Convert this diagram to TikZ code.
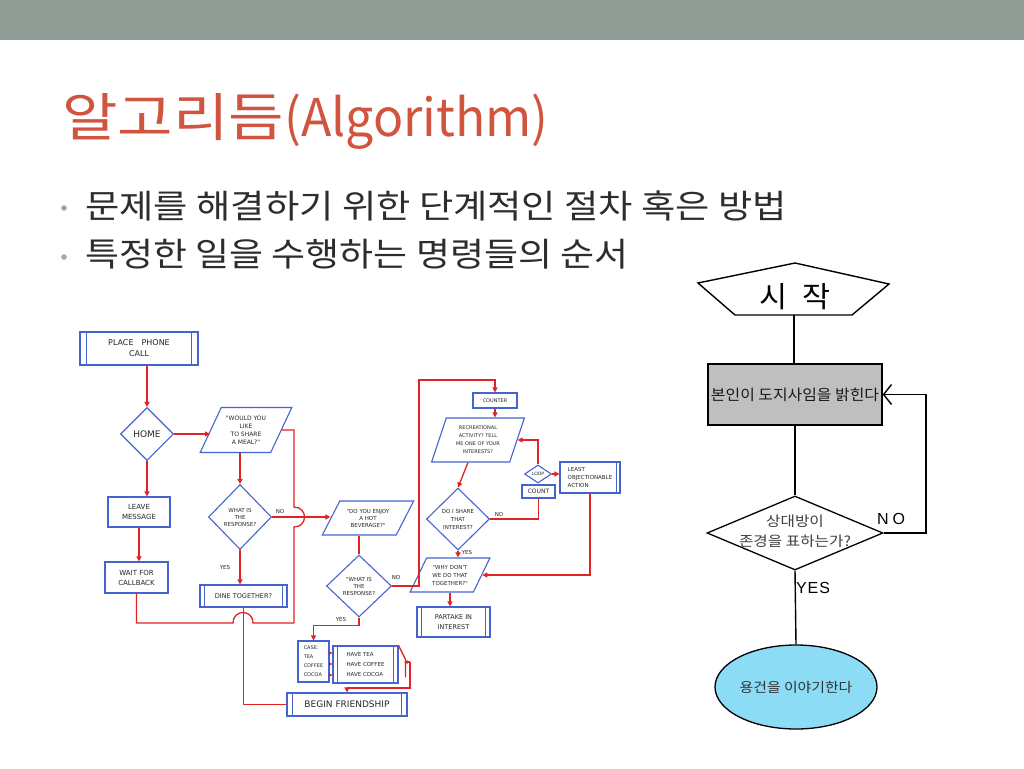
\documentclass[tikz,border=0pt]{standalone}
\usepackage{fontspec}
\setmainfont{Noto Sans CJK KR}
\newfontfamily\hand{DejaVu Sans}
\newfontfamily\narrowlab{Liberation Sans}
\usetikzlibrary{shapes.geometric,arrows.meta,calc}
\definecolor{barg}{RGB}{145,158,152}
\definecolor{titred}{RGB}{208,84,62}
\definecolor{bodyg}{RGB}{45,45,45}
\definecolor{hblue}{RGB}{70,100,205}
\definecolor{hred}{RGB}{225,35,35}
\definecolor{boxgray}{RGB}{191,191,191}
\definecolor{ellblue}{RGB}{140,220,245}
\newcommand\dsides[2]{\draw[hblue,line width=1pt] ([xshift=#2]#1.north west)--([xshift=#2]#1.south west) ([xshift=-#2]#1.north east)--([xshift=-#2]#1.south east);}
\begin{document}
\begin{tikzpicture}[x=1pt,y=-1pt,
 hbox/.style={draw=hblue,line width=1.1pt,rectangle,inner sep=0pt,align=center,text=black!85},
 hdia/.style={draw=hblue,line width=1.1pt,diamond,inner sep=0pt,align=center,text=black!85},
 hpar/.style={draw=hblue,line width=1.1pt,trapezium,trapezium stretches=true,inner sep=0pt,align=center,text=black!85},
 rl/.style={draw=hred,line width=1.3pt},
 ra/.style={rl,-{Triangle[length=5pt,width=5pt]}},
 hlab/.style={font=\hand\fontsize{5.5}{6}\selectfont,text=black!85,inner sep=0pt},
 kline/.style={draw=black,line width=1.4pt},
]
\useasboundingbox (0,0) rectangle (1024,768);
\fill[white] (0,0) rectangle (1024,768);
\fill[barg] (0,0) rectangle (1024,40);

% title and bullets
\node[anchor=base west,inner sep=0pt,text=titred,font=\fontsize{52}{60}\selectfont] (title) at (62,136) {\scalebox{1.16}[1]{알고리듬}\scalebox{0.96}[1]{(Algorithm)}};
\fill[gray!70] (64,208) circle (2.8);
\fill[gray!70] (64,257) circle (2.8);
\node[anchor=base west,inner sep=0pt,text=bodyg,font=\fontsize{33}{38}\selectfont] (b1) at (85,218) {\scalebox{1.13}[1]{문제를 해결하기 위한 단계적인 절차 혹은 방법}};
\node[anchor=base west,inner sep=0pt,text=bodyg,font=\fontsize{33}{38}\selectfont] (b2) at (85,266) {\scalebox{1.12}[1]{특정한 일을 수행하는 명령들의 순서}};

% ---------- hand-drawn flowchart ----------
\node[hbox,minimum width=118pt,minimum height=33pt,font=\hand\fontsize{8}{11}\selectfont] (place) at (139,348.5) {PLACE\quad PHONE\\CALL};
\dsides{place}{7pt}
\node[hdia,aspect=1,minimum width=53pt,minimum height=53pt,font=\hand\fontsize{9}{10}\selectfont] (home) at (147,434) {HOME};
\node[hpar,trapezium left angle=59,trapezium right angle=121,minimum width=92pt,minimum height=45pt,font=\hand\fontsize{6}{8}\selectfont] (would) at (246,430) {"WOULD YOU\\LIKE\\TO SHARE\\A MEAL?"};
\node[hbox,minimum width=62pt,minimum height=30pt,font=\hand\fontsize{7}{10}\selectfont] (leave) at (139,512) {LEAVE\\MESSAGE};
\node[hbox,minimum width=63pt,minimum height=31pt,font=\hand\fontsize{7}{10}\selectfont] (wait) at (136.5,577.5) {WAIT FOR\\CALLBACK};
\node[hdia,aspect=1,minimum width=63pt,minimum height=65pt,font=\hand\fontsize{5.5}{7}\selectfont] (resp1) at (240,517) {WHAT IS\\THE\\RESPONSE?};
\node[hbox,minimum width=87pt,minimum height=22pt,font=\hand\fontsize{6.5}{8}\selectfont] (dine) at (243.5,596) {DINE TOGETHER?};
\dsides{dine}{5pt}
\node[hpar,trapezium left angle=54,trapezium right angle=126,minimum width=92pt,minimum height=34pt,font=\hand\fontsize{5.5}{7}\selectfont] (enjoy) at (368,518) {"DO YOU ENJOY\\A HOT\\BEVERAGE?"};
\node[hdia,aspect=1,minimum width=65pt,minimum height=62pt,font=\hand\fontsize{5.5}{7}\selectfont] (resp2) at (359,586) {"WHAT IS\\THE\\RESPONSE?};
\node[hbox,minimum width=31pt,minimum height=41pt,align=left,font=\hand\fontsize{5}{9}\selectfont] (case) at (313.5,661.5) {CASE:\\TEA\\COFFEE\\COCOA};
\node[hbox,minimum width=65pt,minimum height=37pt,align=left,font=\hand\fontsize{5.5}{10}\selectfont] (have) at (365.5,664.5) {HAVE TEA\\HAVE COFFEE\\HAVE COCOA};
\dsides{have}{5pt}
\node[hbox,minimum width=120pt,minimum height=23pt,font=\hand\fontsize{9}{10}\selectfont] (begin) at (347,704.5) {BEGIN FRIENDSHIP};
\dsides{begin}{6pt}
\node[hbox,minimum width=44pt,minimum height=15pt,font=\hand\fontsize{5}{6}\selectfont] (counter) at (495,400.5) {COUNTER};
\node[hpar,trapezium left angle=70,trapezium right angle=110,minimum width=93pt,minimum height=44pt,font=\hand\fontsize{5}{8}\selectfont] (recr) at (478,440) {RECREATIONAL\\ACTIVITY? TELL\\ME ONE OF YOUR\\INTERESTS?};
\node[hdia,aspect=1,minimum width=63pt,minimum height=62pt,font=\hand\fontsize{5.5}{8}\selectfont] (dois) at (458,519) {DO I SHARE\\THAT\\INTEREST?};
\node[hdia,aspect=1.5,minimum width=27pt,minimum height=18pt,font=\hand\fontsize{4.5}{5}\selectfont] (loop) at (538,474) {LOOP};
\node[hbox,minimum width=33pt,minimum height=13pt,font=\hand\fontsize{6}{7}\selectfont] (count) at (538.5,491.5) {COUNT};
\node[hbox,minimum width=60pt,minimum height=31pt,align=left,font=\hand\fontsize{5.5}{8}\selectfont] (least) at (590,477.5) {LEAST\\OBJECTIONABLE\\ACTION};
\draw[hblue,line width=1pt] ([xshift=-4pt]least.north east) -- ([xshift=-4pt]least.south east);
\node[hpar,trapezium left angle=58,trapezium right angle=122,minimum width=80pt,minimum height=34pt,font=\hand\fontsize{5.5}{8}\selectfont] (why) at (450,575) {"WHY DON'T\\WE DO THAT\\TOGETHER?"};
\node[hbox,minimum width=73pt,minimum height=30pt,font=\hand\fontsize{6.5}{10}\selectfont] (partake) at (453.5,622) {PARTAKE IN\\INTEREST};
\dsides{partake}{5pt}

% labels
\node[hlab] (no1) at (280,511) {NO};
\node[hlab] (yes1) at (225,567) {YES};
\node[hlab] (no2) at (396,577) {NO};
\node[hlab] (yes2) at (341,619) {YES};
\node[hlab] (no3) at (499,514) {NO};
\node[hlab] (yes3) at (467,552) {YES};

% connectors
\coordinate (j1) at (294,623);
\coordinate (k1) at (419,380);
\coordinate (n1) at (410,662);
\draw[ra] (home.north |- place.south) -- (home.north);
\draw[ra] (home.east) -- (home.east -| would.west);
\draw[ra] (home.south) -- (home.south |- leave.north);
\draw[ra] (leave.south) -- (leave.south |- wait.north);
\draw[ra] (resp1.north |- would.south) -- (resp1.north);
\draw[ra] (resp1.south) -- (resp1.south |- dine.north);
\draw[ra] (resp1.east) -- (resp1.east -| enjoy.west);
\draw[rl] (would.east) -- (294,430) -- (294,507) .. controls (308,507) and (308,527) .. (294,527) -- (j1);
\draw[rl] (wait.south) -- (wait.south |- j1) -- (233,623) .. controls (233,609) and (253,609) .. (253,623) -- (j1);
\draw[rl] (dine.south) -- (dine.south |- begin.west) -- (begin.west);
\draw[rl] (resp2.north |- enjoy.south) -- (resp2.north);
\draw[ra] (resp2.east) -| (k1) -| (counter.north);
\draw[ra] (resp2.south) -- ++(0,8) -| (case.north);
\draw[ra,-{Triangle[length=3.5pt,width=3.5pt]}] (case.east |- 0,653) -- (have.west |- 0,653);
\draw[ra,-{Triangle[length=3.5pt,width=3.5pt]}] (case.east |- 0,664) -- (have.west |- 0,664);
\draw[ra,-{Triangle[length=3.5pt,width=3.5pt]}] (case.east |- 0,675) -- (have.west |- 0,675);
\draw[rl] (have.north east) -- ++(7,14) -- ++(0,18);
\draw[ra,-{Triangle[length=3.5pt,width=3.5pt]}] (n1) -- ++(-6,0);
\draw[ra] (n1) |- (347,688) -- (begin.north);
\draw[ra] (counter.south) -- (counter.south |- recr.north);
\draw[ra] ([xshift=-10pt]recr.south) -- (dois.north);
\draw[rl] (dois.east) -| (count.south);
\draw[ra] (loop.north) |- (recr.east);
\draw[ra] (loop.east) -- (loop.east -| least.west);
\draw[ra] (least.south) |- (why.east);
\draw[ra] (dois.south) -- (dois.south |- why.north);
\draw[ra] (why.south) -- (why.south |- partake.north);

% ---------- right flowchart ----------
\draw[kline] (795,263) -- (889,284) -- (852,315) -- (735,315) -- (698,283) -- cycle;
\node[inner sep=0pt,font=\fontsize{29}{32}\selectfont] (start) at (795,297) {\scalebox{1.05}[1]{시\hspace{14pt}작}};
\coordinate (startbot) at (794,315);
\node[draw=black,line width=1.3pt,fill=boxgray,minimum width=174pt,minimum height=61pt,inner sep=0pt,font=\fontsize{15}{18}\selectfont,text=black!90] (doji) at (795,394.5) {\scalebox{1.06}[1]{본인이 도지사임을 밝힌다}};
\node[draw=black,line width=1.3pt,diamond,aspect=2.38,minimum width=176pt,minimum height=74pt,inner sep=0pt] (resp) at (795,533) {};
\node[align=center,inner sep=0pt,font=\fontsize{14}{20}\selectfont,text=black!75] (resptxt) at (795,531) {\scalebox{1.12}[1]{상대방이}\\\scalebox{1.12}[1]{존경을 표하는가?}};
\node[draw=black,line width=1.3pt,ellipse,fill=ellblue,minimum width=162pt,minimum height=84pt,inner sep=0pt,font=\fontsize{13.5}{16}\selectfont,text=black!80] (say) at (796,687) {\scalebox{1.1}[1]{용건을 이야기한다}};
\node[inner sep=0pt,font=\narrowlab\fontsize{16}{18}\selectfont] (nolab) at (891,519) {N\hspace{4pt}O};
\node[inner sep=0pt,font=\narrowlab\fontsize{16}{18}\selectfont] (yeslab) at (813,588) {Y\hspace{1pt}E\hspace{1pt}S};
\draw[kline] (startbot) -- (startbot |- doji.north);
\draw[kline] (doji.south) -- (resp.north);
\draw[kline] (resp.south) -- (say.north);
\draw[kline,-{Straight Barb[length=8pt,width=20pt]}] (resp.east) -- (926,533) |- (doji.east);
\end{tikzpicture}
\end{document}
